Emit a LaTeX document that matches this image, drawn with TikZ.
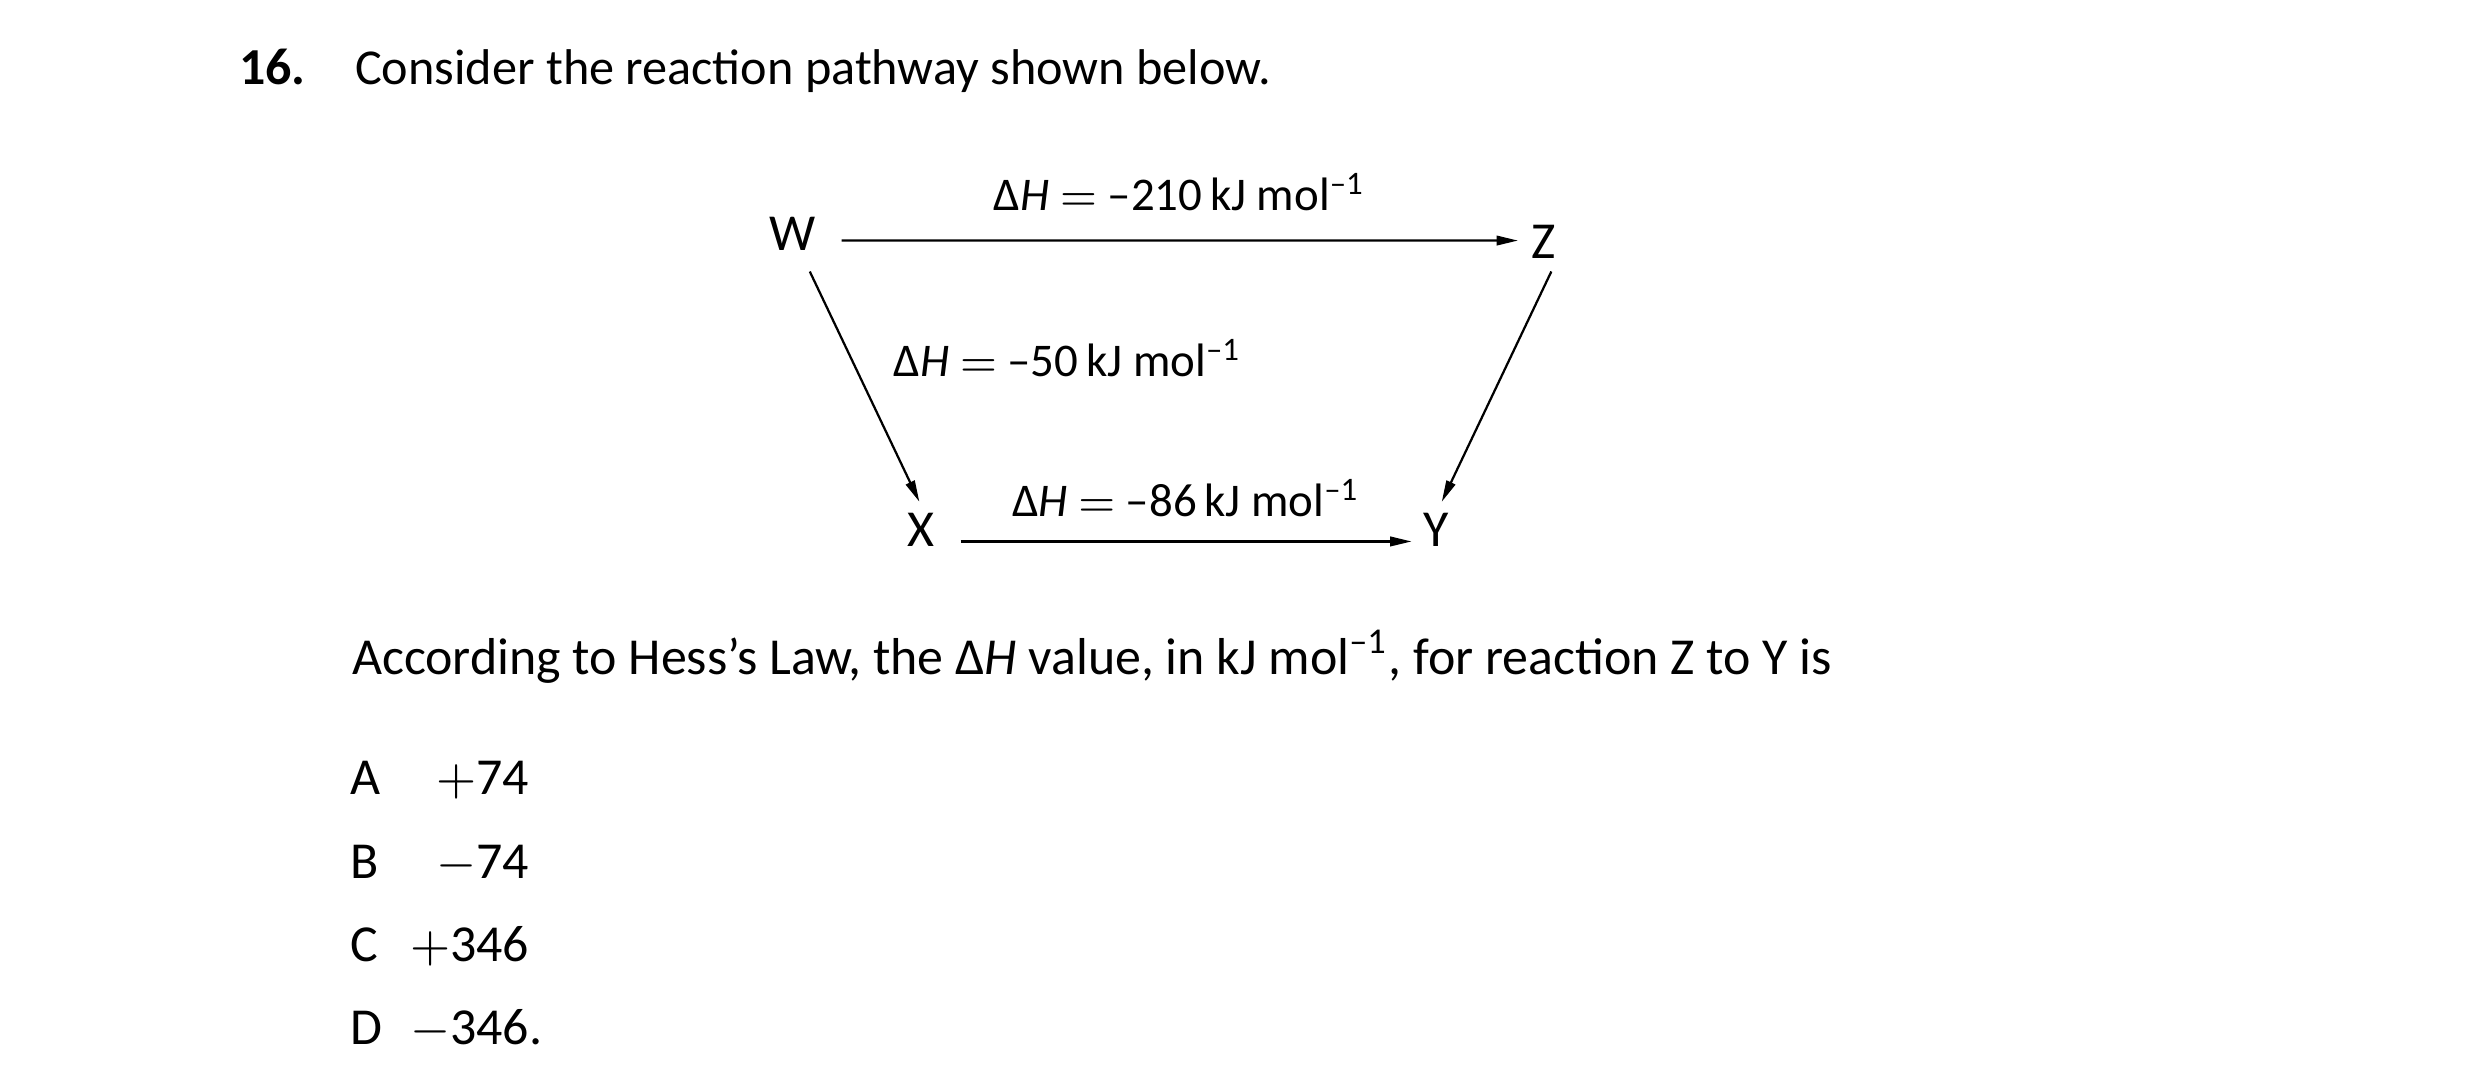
\documentclass[tikz,border=0pt]{standalone}
\usepackage{fontspec}
\setmainfont{Carlito}
\usetikzlibrary{arrows,arrows.meta,positioning}
\newcommand{\dHval}[1]{Δ\textit{H} $=$ –#1\,kJ mol\textsuperscript{–1}}

\begin{document}
\begin{tikzpicture}[>={Triangle[length=1.35mm,width=0.6mm]},thin]
    \tikzstyle{letter}=[inner sep=0pt,font=\fontsize{9.3}{11}\selectfont]
    \tikzstyle{dh}=[inner sep=0pt,font=\fontsize{8.4}{10}\selectfont]
    \tikzstyle{txt}=[inner sep=0pt,anchor=base west,font=\fontsize{9.3}{11}\selectfont]
    \tikzstyle{reacts}=[->]
    \useasboundingbox (0,0) rectangle (15.6,-6.846);
    % question
    \node[txt,font=\fontsize{9.3}{11}\selectfont\bfseries] (num) at (1.50,-0.535) {16.};
    \node[txt,font=\fontsize{9.0}{11}\selectfont] (intro) at (2.23,-0.535) {Consider the reaction pathway shown below.};
    % pathway
    \node[letter] (W) at (4.99,-1.47) {W};
    \node[letter] (Z) at (9.72,-1.525) {Z};
    \node[letter] (X) at (5.80,-3.34) {X};
    \node[letter] (Y) at (9.045,-3.34) {Y};
    \draw[reacts] ([shift={(0.31,-0.045)}]W.center) -- ([shift={(-0.16,0.01)}]Z.center)
        node[dh,midway,above=1.8mm] (dhWZ) {\dHval{210}};
    \draw[reacts] ([shift={(0.11,-0.24)}]W.center) -- ([shift={(-0.01,0.18)}]X.center);
    \draw[reacts] ([shift={(0.05,-0.185)}]Z.center) -- ([shift={(0.035,0.18)}]Y.center);
    \draw[reacts] ([shift={(0.25,-0.07)}]X.center) -- ([shift={(-0.155,-0.07)}]Y.center)
        node[dh,midway,above=1.5mm] (dhXY) {\dHval{86}};
    \node[dh,anchor=base] (dhWX) at (6.725,-2.37) {\dHval{50}};
    % question and options
    \node[txt] (ask) at (2.21,-4.25) {According to Hess’s Law, the Δ\textit{H} value, in kJ mol\textsuperscript{–1}, for reaction Z to Y is};
    \foreach \opt/\val/\y in {A/$+$74/-5.006, B/$-$74/-5.53, C/$+$346/-6.055, D/$-$346\rlap{.}/-6.58}{
      \node[txt] (opt\opt) at (2.20,\y) {\opt};
      \node[txt,anchor=base east] (val\opt) at (3.34,\y) {\val};
    }
\end{tikzpicture}
\end{document}
